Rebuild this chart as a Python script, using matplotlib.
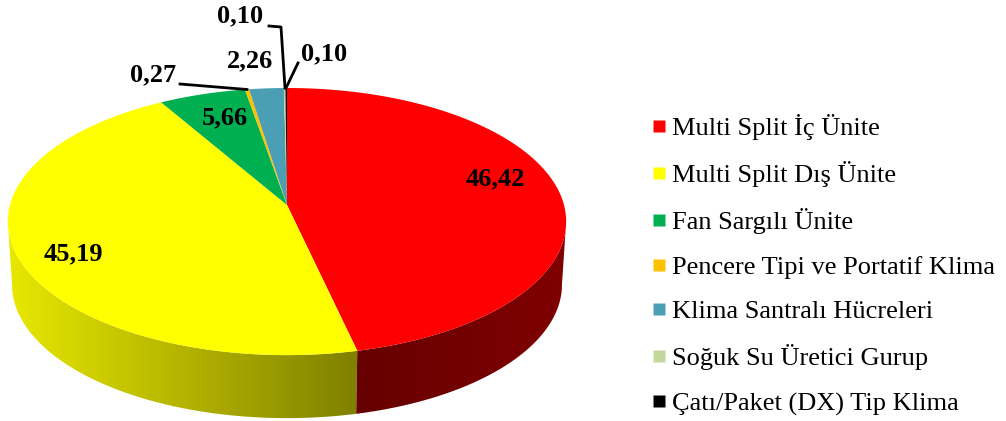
import numpy as np
import matplotlib
matplotlib.use('Agg')
import matplotlib.pyplot as plt
from matplotlib.lines import Line2D
from matplotlib.patches import Polygon

labels = ['Multi Split İç Ünite', 'Multi Split Dış Ünite', 'Fan Sargılı Ünite',
          'Pencere Tipi ve Portatif Klima', 'Klima Santralı Hücreleri',
          'Soğuk Su Üretici Gurup', 'Çatı/Paket (DX) Tip Klima']
values = [46.42, 45.19, 5.66, 0.27, 2.26, 0.10, 0.10]
value_text = ['46,42', '45,19', '5,66', '0,27', '2,26', '0,10', '0,10']
colors = ['#ff0000', '#ffff00', '#00b050', '#ffc000', '#4a9fb5', '#c3d69b', '#000000']

plt.rcParams['font.family'] = ['Liberation Serif', 'DejaVu Serif']

# pie geometry in image pixels, tilted disc seen in perspective
CX, CY = 287.0, 205.0
A, B, K = 277.0, 131.5, 0.124
DEPTH = 63.0


def project(theta, shrink=1.0, drop=0.0):
    # theta in degrees, clockwise from the top of the disc
    u = np.sin(np.radians(theta))
    v = np.cos(np.radians(theta))
    den = 1 + K*v
    return CX + shrink*A*u/den, CY - B*v/den + drop


fig = plt.figure(figsize=(10.06, 4.21), dpi=100)
ax = fig.add_axes([0, 0, 1, 1])
ax.set_xlim(0, 1006)
ax.set_ylim(421, 0)
ax.axis('off')

edges = np.concatenate([[0], np.cumsum(values)]) / sum(values) * 360


def side(t1, t2, c_left, c_right):
    th = np.linspace(t1, t2, 120)
    xt, yt = project(th)
    xb, yb = project(th[::-1], shrink=0.985, drop=DEPTH)
    pts = np.column_stack([np.r_[xt, xb], np.r_[yt, yb]])
    poly = Polygon(pts, closed=True, fc='none', ec='none')
    ax.add_patch(poly)
    x0, x1 = pts[:, 0].min(), pts[:, 0].max()
    ramp = np.linspace(0, 1, 256)[:, None]
    img = (1 - ramp)*np.array(c_left) + ramp*np.array(c_right)
    im = ax.imshow(img[None, :, :], extent=[x0, x1, 421, 0], aspect='auto', zorder=1)
    im.set_clip_path(poly)


# 97.1 and 262.9 are where the rim is widest on screen
side(edges[1], 262.9, (232/255, 232/255, 0), (128/255, 128/255, 0))
side(97.1, edges[1], (0.40, 0, 0), (0.50, 0, 0))
ax.set_xlim(0, 1006)
ax.set_ylim(421, 0)

# top face
for i, c in enumerate(colors):
    th = np.linspace(edges[i], edges[i + 1], max(int(edges[i + 1] - edges[i])*2, 3))
    x, y = project(th)
    ax.fill(np.r_[CX, x], np.r_[CY, y], color=c, lw=0, zorder=2)

# value labels
label_pos = [(495, 179), (73, 254), (225, 118), (153, 75), (250, 61), (240, 16), (324, 54)]
for txt, (lx, ly) in zip(value_text, label_pos):
    ax.text(lx, ly, txt, ha='center', va='center', fontsize=19, fontweight='bold', zorder=4)

# leader lines
ax.plot([180, 247], [84, 89.5], color='black', lw=2, zorder=3)
ax.plot([269, 281, 285], [26, 27, 88], color='black', lw=2, zorder=3)
ax.plot([298, 286], [63, 88], color='black', lw=2, zorder=3)

handles = [Line2D([], [], ls='none', marker='s', ms=9, mfc=c, mec='none') for c in colors]
ax.legend(handles, labels, loc='upper left', bbox_to_anchor=(646/1006, 1 - 114/421),
          frameon=False, fontsize=19, labelspacing=0.8, handletextpad=0.0,
          handlelength=1.0, borderpad=0, borderaxespad=0)

fig.savefig('out.png', dpi=100)
